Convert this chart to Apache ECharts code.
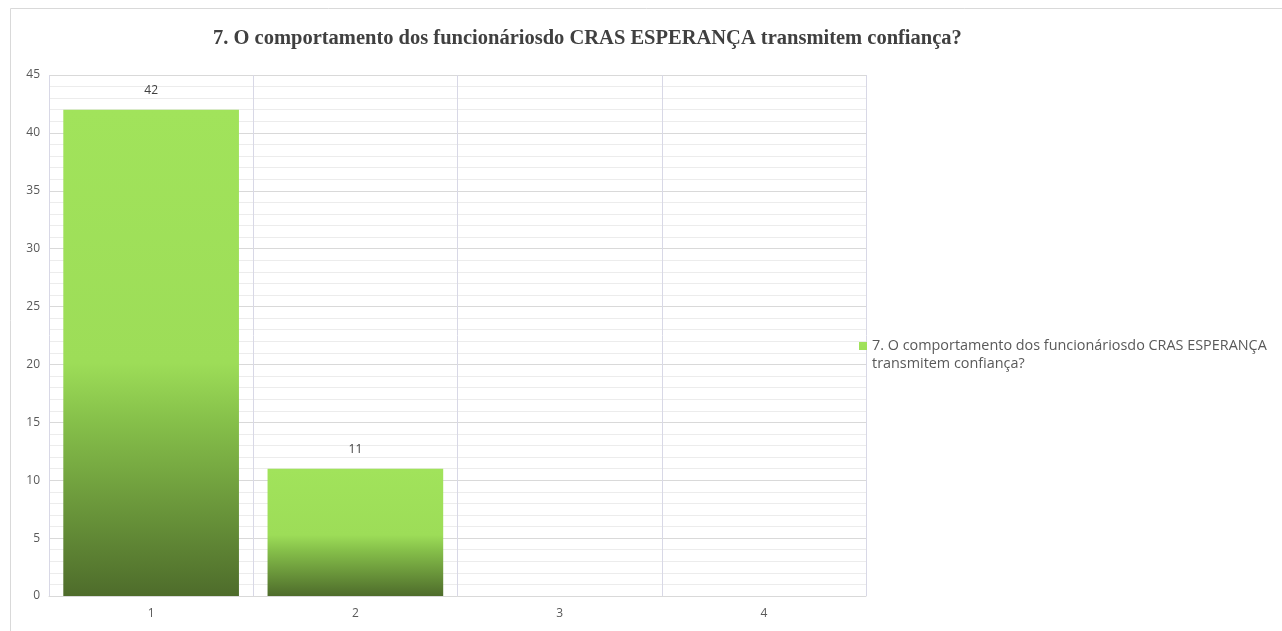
<!DOCTYPE html>
<html>
<head>
<meta charset="utf-8">
<script src="https://cdn.jsdelivr.net/npm/echarts@6/dist/echarts.min.js"></script>
<style>html,body{margin:0;padding:0;background:#fff}#c{width:1282px;height:631px}</style>
</head>
<body>
<div id="c"></div>
<script>
const titleText = '7. O comportamento dos funcionáriosdo CRAS ESPERANÇA transmitem confiança?';
const seriesName = '7. O comportamento dos funcionáriosdo CRAS ESPERANÇA transmitem confiança?';
const categories = ['1', '2', '3', '4'];
const values = [42, 11, 0, 0];

const chart = echarts.init(document.getElementById('c'));
const barGradient = new echarts.graphic.LinearGradient(0, 0, 0, 1, [
  { offset: 0, color: '#a1e35b' },
  { offset: 0.52, color: '#9ddd58' },
  { offset: 0.64, color: '#86c04a' },
  { offset: 1, color: '#4e6c2b' }
]);
chart.setOption({
  animation: false,
  graphic: [{
    type: 'rect', shape: { x: 10.5, y: 8.5, width: 1300, height: 700 },
    style: { fill: 'none', stroke: '#d9d9d9', lineWidth: 1 }, z: -10
  }],
  title: {
    text: titleText, left: 208, top: 23,
    textStyle: { fontFamily: 'Liberation Serif', fontWeight: 'bold', fontSize: 20.5, color: '#404040' }
  },
  legend: {
    orient: 'vertical', left: 854, top: 332, itemWidth: 8, itemHeight: 26, itemGap: 4,
    icon: 'path://M0,0h8v8h-8z M0,26 L0.01,26',
    formatter: n => n.replace(' transmitem', '\ntransmitem'),
    textStyle: { fontFamily: 'Open Sans', fontSize: 14.4, color: '#595959', lineHeight: 18 }
  },
  grid: { left: 49, right: 416, top: 75, bottom: 35 },
  xAxis: {
    type: 'category', data: categories,
    axisLine: { lineStyle: { color: '#d9d9d9' } },
    axisTick: { show: false },
    axisLabel: { color: '#595959', fontFamily: 'Open Sans', fontSize: 12, margin: 12 },
    splitLine: { show: true, lineStyle: { color: '#d8d8e6' } }
  },
  yAxis: {
    type: 'value', min: 0, max: 45, interval: 5,
    axisLine: { show: false }, axisTick: { show: false },
    axisLabel: { color: '#595959', fontFamily: 'Open Sans', fontSize: 12, margin: 9 },
    splitLine: { lineStyle: { color: '#d9d9d9' } },
    minorTick: { show: false, splitNumber: 5 },
    minorSplitLine: { show: true, lineStyle: { color: '#ececec' } }
  },
  series: [{
    name: seriesName, type: 'bar', data: values, barCategoryGap: '14%',
    itemStyle: { color: barGradient },
    label: { show: true, position: 'top', distance: 13, color: '#404040', fontFamily: 'Open Sans', fontSize: 12,
      formatter: p => p.value > 0 ? p.value : '' }
  }]
});
</script>
</body>
</html>
